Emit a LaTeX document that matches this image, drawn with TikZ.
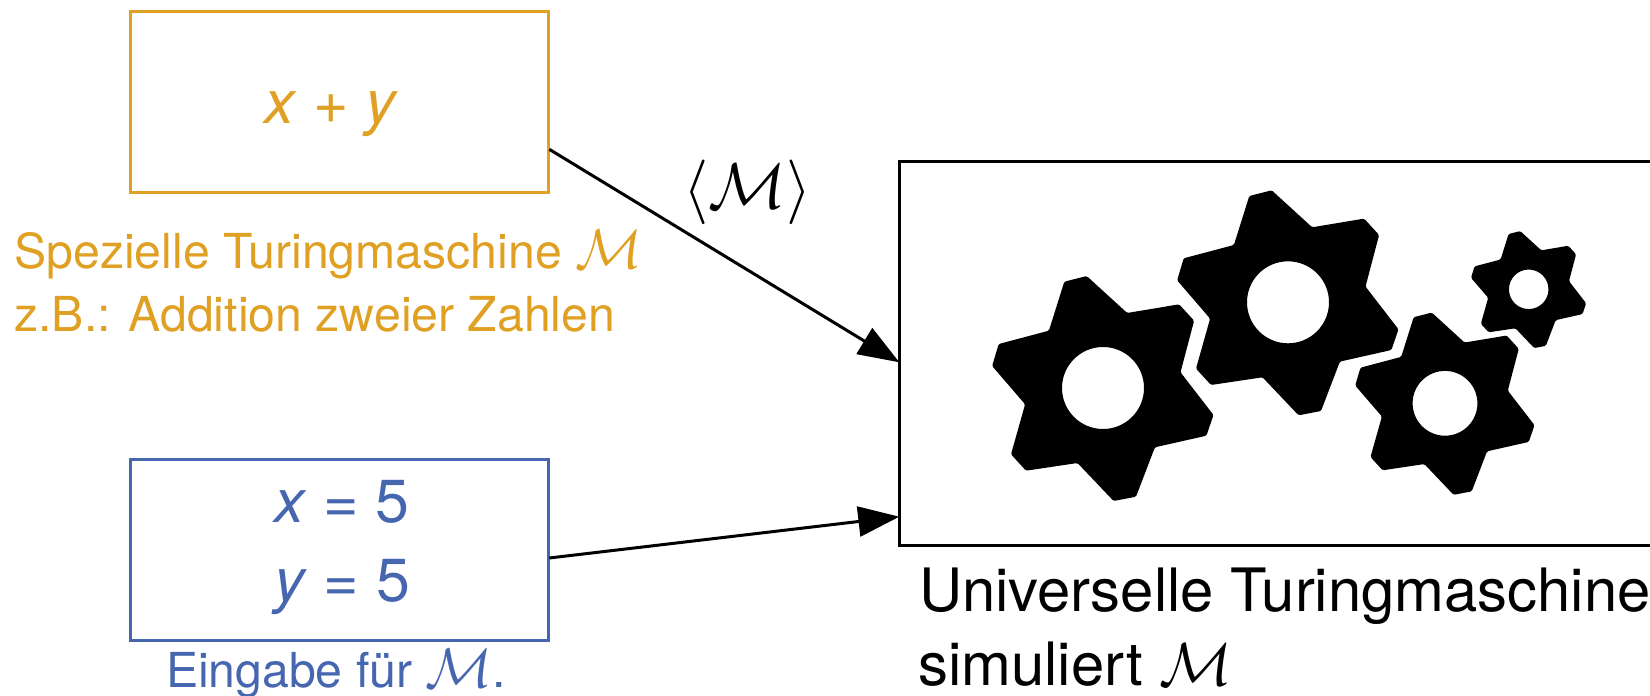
\documentclass[tikz,border=0pt]{standalone}
\usepackage{fontspec}
\setmainfont{TeX Gyre Heros}
\usetikzlibrary{arrows.meta}
\definecolor{gold}{HTML}{DFA023}
\definecolor{steel}{HTML}{4666AF}
\newcommand{\gearshape}[4]{%
  \fill[black,even odd rule,rounded corners=0.7pt,shift={(#1,#2)},scale=#3]
    (-38.7,-106.3) -- (-16.3,-112) -- (24.2,-75) -- (76.1,-83.7) -- (91.1,-67.3) -- (77.5,-15.7)
    -- (110.5,27) -- (103.4,47.7) -- (51.9,59.3) -- (33,108.7) -- (10.6,113) -- (-25.5,75)
    -- (-77,82.7) -- (-92,66.3) -- (-77.9,16.3) -- (-110.9,-22) -- (-104.3,-44) -- (-54.1,-57.3) -- cycle
    [sharp corners] (0,0) circle[radius=#4];}
\newcommand{\calM}[1]{\scalebox{#1}{$\mathcal{M}$}}
\tikzset{
  x=0.5pt,y=-0.5pt,
  box/.style={draw,line width=1.5pt,inner sep=0pt,minimum width=209pt,minimum height=90.5pt},
  lab/.style={inner sep=0pt,anchor=base west,font=\fontsize{24.1}{24.1}\selectfont},
  main/.style={inner sep=0pt,anchor=base west,font=\fontsize{29.9}{29.9}\selectfont},
  formula/.style={inner sep=0pt,anchor=base,font=\fontsize{30.4}{30.4}\selectfont},
  conn/.style={line width=1.5pt,-{Triangle[length=20.5pt,width=15pt]}}
}
\begin{document}
\begin{tikzpicture}
\useasboundingbox (0,0) rectangle (1650,696);
\node[box,draw=gold] (prog) at (339.8,102) {};
\node[box,draw=steel] (input) at (339.8,549.5) {};
\node[draw,line width=1.5pt,inner sep=0pt,minimum width=450pt,minimum height=192pt] (utm) at (1349,353) {};
\node[formula,text=gold] (sum) at (331.5,123) {\textit{x} + \textit{y}};
\node[formula,text=steel] (xval) at (342,522) {\textit{x} = 5};
\node[formula,text=steel] (yval) at (342,601) {\textit{y} = 5};
\node[lab,text=gold] (l1) at (14,268) {Spezielle Turingmaschine \calM{1.12}};
\node[lab,text=gold] (l2) at (14,331) {z.B.: Addition zweier Zahlen};
\node[lab,anchor=base,text=steel] (l3) at (336,687) {Eingabe für \calM{1.12}.};
\node[main] (l4) at (919,611) {Universelle Turingmaschine};
\node[main] (l5) at (918,685) {simuliert \calM{1.22}};
\node[formula,anchor=base] (code) at (747.5,208) {\scalebox{1.3}{$\langle\mathcal{M}\rangle$}};
\coordinate (a1) at (549.3,149.3);
\coordinate (a2) at (899.3,362.3);
\coordinate (b1) at (549.3,558);
\coordinate (b2) at (899.3,516.7);
\draw[conn] (a1) -- (a2);
\draw[conn] (b1) -- (b2);
\gearshape{1103}{388}{1}{41}
\gearshape{1288}{302.3}{1}{41}
\gearshape{1445}{403.3}{0.81}{40}
\gearshape{1528.7}{289.3}{0.52}{38}
\end{tikzpicture}
\end{document}
